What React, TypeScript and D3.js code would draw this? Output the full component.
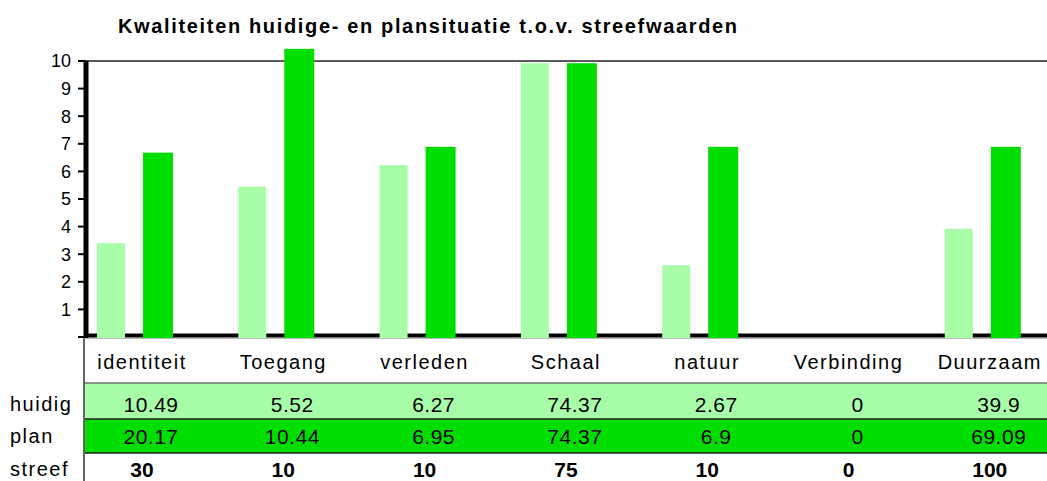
import React from 'react';
import * as d3 from 'd3';

const categories = ['identiteit', 'Toegang', 'verleden', 'Schaal', 'natuur', 'Verbinding', 'Duurzaam'];
// bar heights (score out of 10)
const huidigScore = [3.4, 5.45, 6.23, 9.92, 2.6, 0, 3.92];
const planScore = [6.68, 10.44, 6.89, 9.92, 6.89, 0, 6.89];
// table rows
const huidigText = ['10.49', '5.52', '6.27', '74.37', '2.67', '0', '39.9'];
const planText = ['20.17', '10.44', '6.95', '74.37', '6.9', '0', '69.09'];
const streefText = ['30', '10', '10', '75', '10', '0', '100'];
const yTicks = [0, 1, 2, 3, 4, 5, 6, 7, 8, 9, 10];

const W = 1047;
const H = 481;
const LIGHT = '#a8fea8';
const DARK = '#00dd00';
const FONT = '"Liberation Sans", Arial, sans-serif';

export default function App() {
  const left = 85;

  const x = d3.scaleBand<string>().domain(categories).range([left, left + 7 * 141.3]).padding(0);
  const inner = d3.scaleBand<string>().domain(['huidig', 'plan']).range([12, 87]).paddingInner(0.37);
  const y = d3.scaleLinear().domain([0, 10]).range([337, 61]);

  const colCenter = (c: string) => (x(c) as number) + 57;
  const valCenter = (c: string) => (x(c) as number) + 66;

  return (
    <svg width={W} height={H} style={{ position: 'absolute', left: 0, top: 0, background: '#fff' }} fontFamily={FONT}>
      {/* title */}
      <text x={118} y={33} fontSize={20} fontWeight="bold" textLength={619} lengthAdjust="spacing">
        Kwaliteiten huidige- en plansituatie t.o.v. streefwaarden
      </text>

      {/* top gridline at 10 */}
      <line x1={left} x2={W} y1={y(10)} y2={y(10)} stroke="#222" strokeWidth={1.6} />

      {/* bars */}
      {categories.map((c, i) => (
        <g key={c}>
          {huidigScore[i] > 0 && (
            <rect
              x={(x(c) as number) + (inner('huidig') as number)}
              y={y(huidigScore[i])}
              width={inner.bandwidth() - 1}
              height={y(0) - y(huidigScore[i]) + 1}
              fill={LIGHT}
            />
          )}
          {planScore[i] > 0 && (
            <rect
              x={(x(c) as number) + (inner('plan') as number)}
              y={y(planScore[i])}
              width={inner.bandwidth() + 1}
              height={y(0) - y(planScore[i]) + 1}
              fill={DARK}
            />
          )}
        </g>
      ))}

      {/* x axis (zero line); bar feet drawn over it */}
      <line x1={left} x2={W} y1={y(0) - 1.5} y2={y(0) - 1.5} stroke="#000" strokeWidth={4} />
      <line x1={left} x2={W} y1={y(0) + 1} y2={y(0) + 1} stroke="#777" strokeWidth={1} />
      {categories.map((c, i) => (
        <g key={'foot' + c}>
          {huidigScore[i] > 0 && (
            <rect
              x={(x(c) as number) + (inner('huidig') as number)}
              y={y(0) - 4}
              width={inner.bandwidth() - 1}
              height={5}
              fill={LIGHT}
            />
          )}
          {planScore[i] > 0 && (
            <rect
              x={(x(c) as number) + (inner('plan') as number)}
              y={y(0) - 4}
              width={inner.bandwidth() + 1}
              height={5}
              fill={DARK}
            />
          )}
        </g>
      ))}

      {/* y axis */}
      <line x1={86} x2={86} y1={y(10)} y2={y(0) + 1} stroke="#000" strokeWidth={5} />
      {yTicks.map((t) => (
        <g key={t}>
          <line x1={78} x2={86} y1={y(t)} y2={y(t)} stroke="#000" strokeWidth={2} />
          {t > 0 && (
            <text x={71} y={y(t)} dy="0.35em" textAnchor="end" fontSize={18}>
              {t}
            </text>
          )}
        </g>
      ))}

      {/* data table */}
      <rect x={left} y={383} width={W - left} height={36} fill={LIGHT} />
      <rect x={left} y={419} width={W - left} height={34} fill={DARK} />
      <line x1={left} x2={W} y1={383} y2={383} stroke="#333" strokeWidth={1.2} />
      <line x1={left} x2={W} y1={419} y2={419} stroke="#222" strokeWidth={1.4} />
      <line x1={left} x2={W} y1={453} y2={453} stroke="#222" strokeWidth={1.4} />
      <line x1={84} x2={84} y1={y(0)} y2={H} stroke="#000" strokeWidth={1.2} />

      {categories.map((c) => (
        <text key={'lab' + c} x={colCenter(c)} y={369} textAnchor="middle" fontSize={20} letterSpacing={1.5}>
          {c}
        </text>
      ))}

      <text x={10} y={411} fontSize={20} letterSpacing={1.5}>huidig</text>
      <text x={10} y={443} fontSize={20} letterSpacing={1.5}>plan</text>
      <text x={10} y={476} fontSize={20} letterSpacing={1.5}>streef</text>

      {categories.map((c, i) => (
        <g key={'row' + c}>
          <text x={valCenter(c)} y={412} textAnchor="middle" fontSize={21} letterSpacing={0.5}>
            {huidigText[i]}
          </text>
          <text x={valCenter(c)} y={444} textAnchor="middle" fontSize={21} letterSpacing={0.5}>
            {planText[i]}
          </text>
          <text x={colCenter(c)} y={477} textAnchor="middle" fontSize={21} fontWeight="bold">
            {streefText[i]}
          </text>
        </g>
      ))}
    </svg>
  );
}
